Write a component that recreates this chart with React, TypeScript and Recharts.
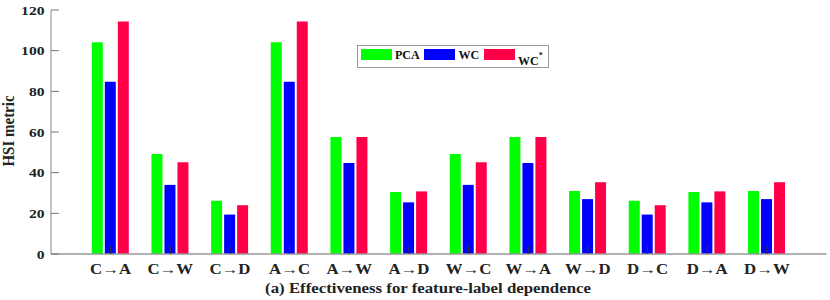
import { BarChart, Bar, XAxis, YAxis, Legend, Label } from 'recharts';

document.body.style.margin = '0';

const categories = ['C→A', 'C→W', 'C→D', 'A→C', 'A→W', 'A→D', 'W→C', 'W→A', 'W→D', 'D→C', 'D→A', 'D→W'];
const pcaValues = [104.2, 49.2, 26.2, 104.2, 57.5, 30.5, 49.2, 57.5, 31.0, 26.2, 30.5, 31.0];
const wcValues = [84.7, 34.0, 19.4, 84.7, 44.8, 25.4, 34.0, 44.8, 27.0, 19.4, 25.4, 27.0];
const wcStarValues = [114.3, 45.1, 24.0, 114.3, 57.5, 30.8, 45.1, 57.5, 35.3, 24.0, 30.8, 35.3];
const yTicks = [0, 20, 40, 60, 80, 100, 120];

const data = categories.map((name, i) => ({
  name,
  pca: pcaValues[i],
  wc: wcValues[i],
  wcStar: wcStarValues[i],
}));

const FONT = '"Liberation Serif", "Times New Roman", serif';
const AXIS_X = 51;
const BASE_Y = 254;

const YTick = (props: any) => {
  const y = props.y;
  return (
    <g>
      <line x1={AXIS_X} x2={AXIS_X + 8} y1={y} y2={y} stroke="#777" strokeWidth={1} />
      <text
        transform={`translate(44.5, ${y + 4.5}) scale(1.2, 1)`}
        textAnchor="end"
        fontFamily={FONT}
        fontWeight="bold"
        fontSize={13}
        fill="#222"
      >
        {props.payload.value}
      </text>
    </g>
  );
};

const XTick = (props: any) => {
  const x = props.x;
  return (
    <g>
      <line x1={x} x2={x} y1={BASE_Y - 8} y2={BASE_Y} stroke="#333" strokeWidth={1} />
      <text
        transform={`translate(${x}, 274) scale(1.2, 1)`}
        textAnchor="middle"
        fontFamily={FONT}
        fontWeight="bold"
        fontSize={14}
        fill="#222"
      >
        {props.payload.value}
      </text>
    </g>
  );
};

const legendItems = [
  { label: 'PCA', color: '#00FF00', sw: 360.5, tx: 395 },
  { label: 'WC', color: '#0000FF', sw: 424, tx: 458.5 },
  { label: 'WC', color: '#FF0048', sw: 483.5, tx: 518, star: true },
];

const LegendBox = () => (
  <div
    style={{
      position: 'absolute',
      left: 357,
      top: 45,
      width: 190,
      height: 21,
      border: '1px solid #999',
      background: '#fff',
      fontFamily: FONT,
      fontWeight: 'bold',
      fontSize: 12,
      color: '#111',
    }}
  >
    {legendItems.map((it) => (
      <div key={it.sw}>
        <div
          style={{
            position: 'absolute',
            left: it.sw - 358,
            top: 3,
            width: 31,
            height: 11,
            background: it.color,
          }}
        />
        <div
          style={{
            position: 'absolute',
            left: it.tx - 358,
            top: it.star ? 5 : 2,
            lineHeight: '14px',
            whiteSpace: 'nowrap',
          }}
        >
          {it.label}
          {it.star && <sup style={{ fontSize: 8, position: 'relative', top: -2 }}>*</sup>}
        </div>
      </div>
    ))}
  </div>
);

export default function App() {
  return (
    <div style={{ width: 830, height: 300, background: '#fff', position: 'relative' }}>
      <BarChart
        width={830}
        height={300}
        data={data}
        margin={{ top: 10, right: 3.5, left: 0, bottom: 0 }}
        barSize={11}
        barGap={2}
      >
        <XAxis
          dataKey="name"
          height={46}
          padding={{ left: 29.8, right: 29.8 }}
          axisLine={{ stroke: '#999', strokeWidth: 1.5 }}
          tickLine={false}
          tick={<XTick />}
          interval={0}
        >
          <Label
            content={() => (
              <text
                transform="translate(428, 293) scale(1.2, 1)"
                textAnchor="middle"
                fontFamily={FONT}
                fontWeight="bold"
                fontSize={14}
                fill="#222"
              >
                (a) Effectiveness for feature-label dependence
              </text>
            )}
          />
        </XAxis>
        <YAxis
          width={AXIS_X}
          domain={[0, 120]}
          ticks={yTicks}
          axisLine={{ stroke: '#888', strokeWidth: 1 }}
          tickLine={false}
          tick={<YTick />}
        >
          <Label
            content={() => (
              <text
                transform="translate(14, 131) rotate(-90) scale(1, 1.1)"
                textAnchor="middle"
                fontFamily={FONT}
                fontWeight="bold"
                fontSize={15}
                fill="#222"
              >
                HSI metric
              </text>
            )}
          />
        </YAxis>
        <Legend content={() => null} />
        <Bar dataKey="pca" fill="#00FF00" isAnimationActive={false} />
        <Bar dataKey="wc" fill="#0000FF" isAnimationActive={false} />
        <Bar dataKey="wcStar" fill="#FF0048" isAnimationActive={false} />
      </BarChart>
      <LegendBox />
    </div>
  );
}
